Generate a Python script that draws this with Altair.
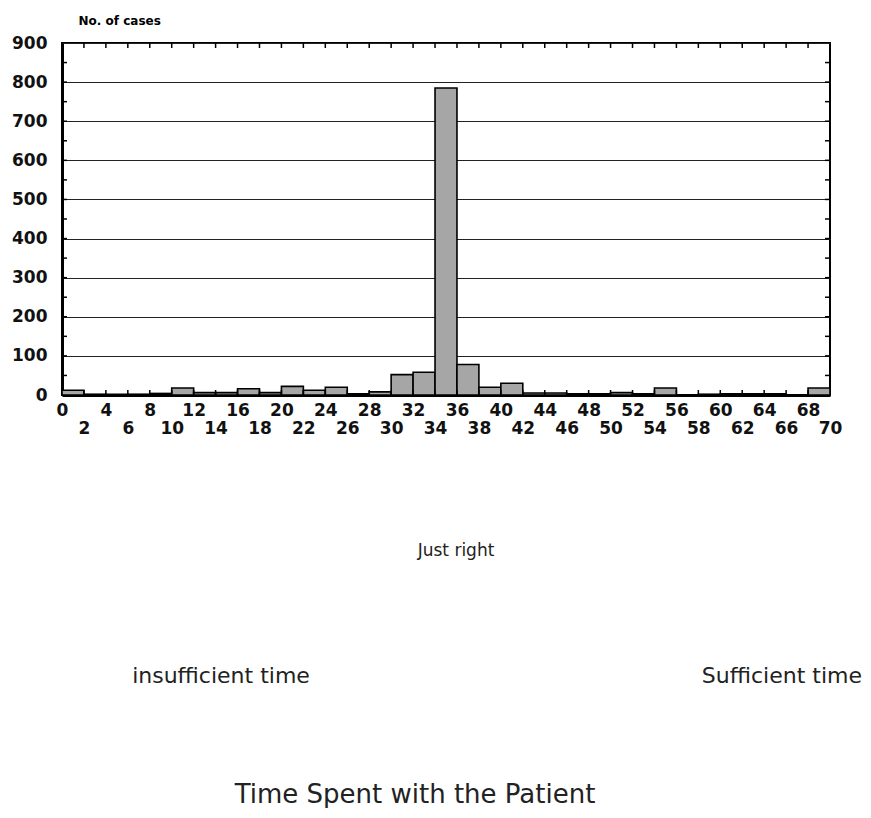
import altair as alt
import pandas as pd

# ---- data ----
bin_start = list(range(0, 70, 2))
bin_end = [b + 2 for b in bin_start]
cases = [12, 2, 2, 2, 4, 18, 6, 6, 16, 6, 22, 12, 20, 3, 8, 52, 58, 785, 78, 20,
         30, 5, 5, 3, 3, 6, 3, 18, 0, 2, 3, 3, 3, 0, 18]

x_tick_values = list(range(0, 72, 2))
y_tick_values = list(range(0, 1000, 100))
y_minor_values = list(range(50, 900, 50))

y_title = "No. of cases"
mid_label = "Just right"
left_label = "insufficient time"
right_label = "Sufficient time"
bottom_title = "Time Spent with the Patient"

W, H = 768, 352
FONT = "DejaVu Sans"

df = pd.DataFrame({"start": bin_start, "end": bin_end, "cases": cases,
                   "base": [0] * len(bin_start)})
xt = pd.DataFrame({"start": x_tick_values[1:-1]})
ym = pd.DataFrame({"cases": y_minor_values})

xscale = alt.Scale(domain=[0, 70], nice=False, zero=False)
yscale = alt.Scale(domain=[0, 900], nice=False)

xaxis = alt.Axis(
    values=x_tick_values, title=None, ticks=False, grid=False,
    labelExpr="datum.value % 4 == 0 ? datum.label : ['', datum.label]",
    labelFont=FONT, labelFontSize=17, labelFontWeight="bold", labelColor="#111111",
    labelBaseline="top", labelPadding=7, labelLineHeight=18,
    labelOverlap=False, labelFlush=False,
    domainColor="black", domainWidth=3)
yaxis = alt.Axis(
    values=y_tick_values, ticks=False, grid=True, gridColor="#222222",
    gridWidth=1.2, gridOpacity=1,
    labelFont=FONT, labelFontSize=17, labelFontWeight="bold", labelColor="#111111",
    labelPadding=15, labelOverlap=False, labelFlush=False,
    domainColor="black", domainWidth=3,
    title=y_title, titleAngle=0, titleX=16, titleY=-23, titleAlign="left",
    titleBaseline="middle", titleFont=FONT, titleFontSize=12,
    titleFontWeight="bold", titleColor="black")

bars = alt.Chart(df).mark_rect(
    fill="#a6a6a6", stroke="black", strokeWidth=1.6
).encode(
    x=alt.X("start:Q", scale=xscale, axis=xaxis),
    x2="end:Q",
    y=alt.Y("cases:Q", scale=yscale, axis=yaxis),
    y2="base:Q",
)

top_ticks = alt.Chart(xt).mark_rule(color="black", strokeWidth=1.5).encode(
    x=alt.X("start:Q", scale=xscale, axis=xaxis), y=alt.value(0), y2=alt.value(5))
bottom_ticks = alt.Chart(xt).mark_rule(color="black", strokeWidth=1.5).encode(
    x=alt.X("start:Q", scale=xscale, axis=xaxis), y=alt.value(H), y2=alt.value(H - 5))
left_ticks = alt.Chart(ym).mark_rule(color="black", strokeWidth=1.5).encode(
    y=alt.Y("cases:Q", scale=yscale, axis=yaxis), x=alt.value(0), x2=alt.value(5))
right_ticks = alt.Chart(ym).mark_rule(color="black", strokeWidth=1.5).encode(
    y=alt.Y("cases:Q", scale=yscale, axis=yaxis), x=alt.value(W), x2=alt.value(W - 5))


def label(text, x, y, size, align="center"):
    return alt.Chart(pd.DataFrame({"t": [text]})).mark_text(
        font=FONT, fontSize=size, color="#222222", align=align, baseline="middle"
    ).encode(text="t:N", x=alt.value(x), y=alt.value(y))


texts = [
    label(mid_label, 394, 508, 17),
    label(left_label, 159, 633, 22),
    label(right_label, 800, 633, 22, align="right"),
    label(bottom_title, 353, 752, 26),
]

chart = alt.layer(bars, top_ticks, bottom_ticks, left_ticks, right_ticks, *texts).properties(
    width=W, height=H,
    autosize=alt.AutoSizeParams(type="none"),
    padding={"left": 54, "top": 35, "right": 33, "bottom": 413},
    background="white",
).configure_view(stroke="black", strokeWidth=2)

chart.save("out.html", embed_options={"renderer": "svg", "actions": False})
